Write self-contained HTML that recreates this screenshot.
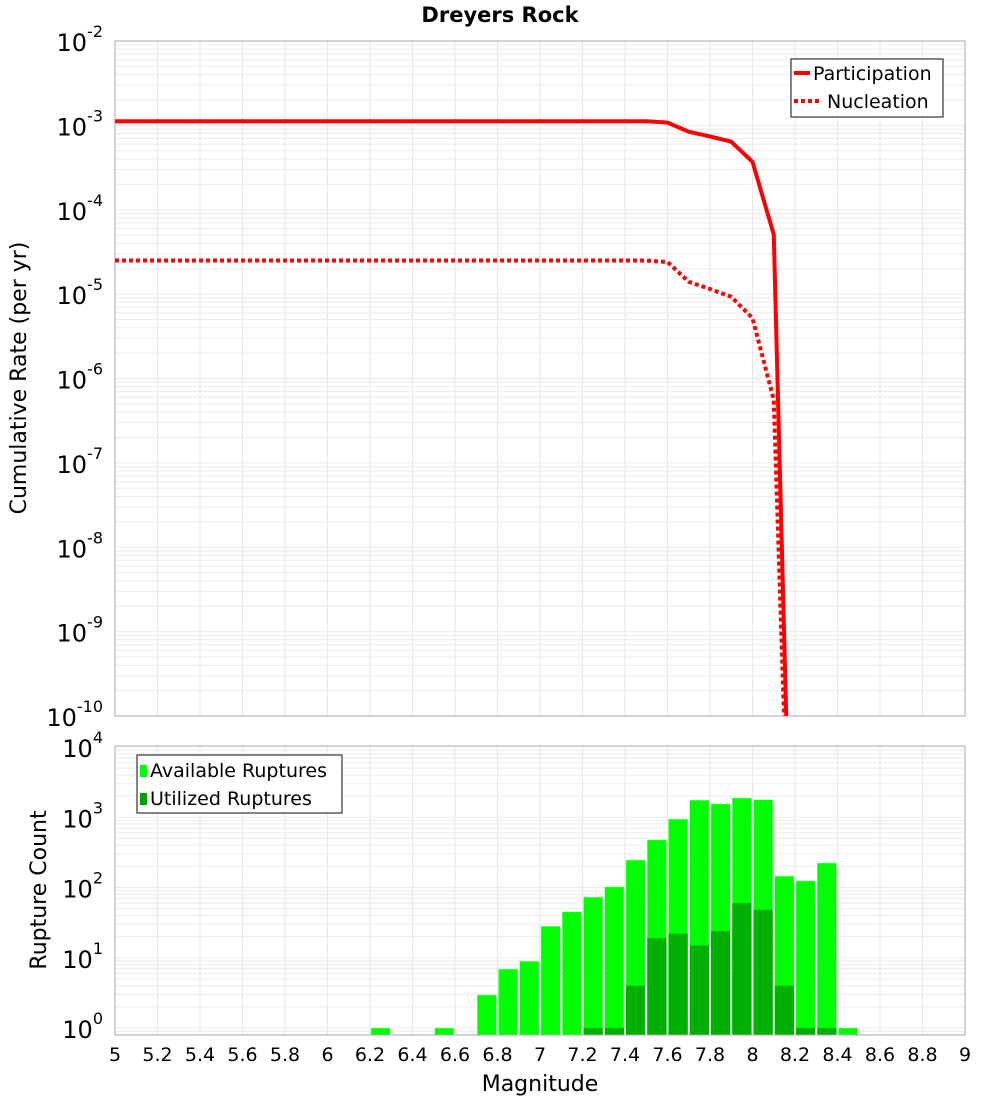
<!DOCTYPE html>
<html><head><meta charset="utf-8"><style>
body{margin:0;background:#fff;font-family:"Liberation Sans","DejaVu Sans",sans-serif}
svg text{font-family:"DejaVu Sans","Liberation Sans",sans-serif}
</style></head><body>
<svg id="c" width="1000" height="1100" xmlns="http://www.w3.org/2000/svg"></svg>
<script>
const mags=[5.0,7.5,7.6,7.7,7.8,7.9,8.0,8.1,8.2];
const participation=[1.12e-3,1.12e-3,1.08e-3,8.4e-4,7.4e-4,6.4e-4,3.7e-4,5.1e-5,1e-14];
const nucleation=[2.5e-5,2.5e-5,2.4e-5,1.4e-5,1.15e-5,9.3e-6,5.2e-6,5.6e-7,1e-14];
const binStarts=[6.2,6.5,6.7,6.8,6.9,7.0,7.1,7.2,7.3,7.4,7.5,7.6,7.7,7.8,7.9,8.0,8.1,8.2,8.3,8.4];
const available=[1,1,2.95,6.9,8.9,28,45,73,102,246,475,940,1750,1550,1880,1770,145,124,223,1];
const utilized=[0,0,0,0,0,0,0,1,1,4,19,22,15,24,60,48,4,1,1,0];
const xTicks=[5,5.2,5.4,5.6,5.8,6,6.2,6.4,6.6,6.8,7,7.2,7.4,7.6,7.8,8,8.2,8.4,8.6,8.8,9];
const topExps=[-2,-3,-4,-5,-6,-7,-8,-9,-10];
const botExps=[4,3,2,1,0];

const NS="http://www.w3.org/2000/svg",svg=document.getElementById('c');
function mk(t,a,p){const e=document.createElementNS(NS,t);for(const k in a)e.setAttribute(k,a[k]);(p||svg).appendChild(e);return e;}
const L=115,R=965;
const X=v=>L+(v-5)/4*(R-L);
const T0=41,T1=716,Yt=v=>T0+(-2-Math.log10(v))*(T1-T0)/8;
const B0=746,B1=1035,ppd=70.25,Yb=v=>1028-Math.log10(v)*ppd;

// title
let t=mk('text',{x:500,y:22,'text-anchor':'middle','font-size':21,'font-weight':'bold'});t.textContent='Dreyers Rock';


function grid(top,bot,yf,lo,hi,name){
  const g=mk('g',{});
  for(const xv of xTicks){mk('line',{x1:X(xv),x2:X(xv),y1:top,y2:bot,stroke:'#e6e6e6','stroke-width':1},g);}
  for(let e=lo;e<hi;e++)for(let m=1;m<10;m++){const y=yf(m*Math.pow(10,e));if(y>=top&&y<=bot)mk('line',{x1:L,x2:R,y1:y,y2:y,stroke:'#ebebeb','stroke-width':1},g);}
  mk('rect',{x:L,y:top,width:R-L,height:bot-top,fill:'none',stroke:'#aaa','stroke-width':1},g);
}
grid(T0,T1,Yt,-10,-2,'top-grid');
grid(B0,B1,Yb,-1,4,'bottom-grid');

function ylab(y,exp,name){
  const tx=mk('text',{x:103,y:y+10,'text-anchor':'end','font-size':24});
  
  const s1=mk('tspan',{},tx);s1.textContent='10';
  const s2=mk('tspan',{dy:-14,'font-size':16},tx);s2.textContent=String(exp);
}
for(const e of topExps){ylab(Yt(Math.pow(10,e)),e,'top-y-tick');}
for(const e of botExps){ylab(Yb(Math.pow(10,e)),e,'bottom-y-tick');}

// lines
const clip=mk('clipPath',{id:'cp'});mk('rect',{x:L,y:T0,width:R-L,height:T1-T0},clip);
function line(vals,dash,name){
  const p=mk('polyline',{points:mags.map((m,i)=>X(m)+','+Yt(vals[i])).join(' '),fill:'none',stroke:'#ff0000','stroke-width':4,'clip-path':'url(#cp)'});
  if(dash)p.setAttribute('stroke-dasharray','4,3');
  
}
line(participation,false,'participation-line');
line(nucleation,true,'nucleation-line');

// bars
const bw=X(5.1)-X(5);
binStarts.forEach((m,i)=>{
  const b=mk('rect',{x:X(m)+1,y:Yb(available[i]),width:bw-2,height:B1-Yb(available[i]),fill:'#00ff00',stroke:'#9f9','stroke-width':0.5});
  
  if(utilized[i]>0){const u=mk('rect',{x:X(m)+1,y:Yb(utilized[i]),width:bw-2,height:B1-Yb(utilized[i]),fill:'#00b000'});
  }
});
mk('line',{x1:L,x2:R,y1:B1,y2:B1,stroke:'#aaa'});

// x ticks
xTicks.forEach(v=>{const tx=mk('text',{x:X(v),y:1061,'text-anchor':'middle','font-size':19});tx.textContent=String(v);
});
t=mk('text',{x:540,y:1091,'text-anchor':'middle','font-size':22});t.textContent='Magnitude';

t=mk('text',{x:0,y:0,'text-anchor':'middle','font-size':22,transform:'translate(26,378) rotate(-90)'});t.textContent='Cumulative Rate (per yr)';

t=mk('text',{x:0,y:0,'text-anchor':'middle','font-size':22,transform:'translate(46,890) rotate(-90)'});t.textContent='Rupture Count';


// legends
let g=mk('g',{});
mk('rect',{x:791,y:59,width:152,height:58,fill:'#fff',stroke:'#333','stroke-width':1.2},g);
mk('line',{x1:794,x2:810,y1:73,y2:73,stroke:'#f00','stroke-width':4},g);
mk('line',{x1:794,x2:822,y1:101,y2:101,stroke:'#f00','stroke-width':4,'stroke-dasharray':'4,3'},g);
t=mk('text',{x:813,y:80,'font-size':19},g);t.textContent='Participation';
t=mk('text',{x:827,y:108,'font-size':19},g);t.textContent='Nucleation';
g=mk('g',{});
mk('rect',{x:137,y:755,width:205,height:58,fill:'#fff',stroke:'#333','stroke-width':1.2},g);
mk('rect',{x:140,y:765,width:7,height:12,fill:'#00ff00'},g);
mk('rect',{x:140,y:793,width:7,height:12,fill:'#00a000'},g);
t=mk('text',{x:150,y:777,'font-size':19},g);t.textContent='Available Ruptures';
t=mk('text',{x:150,y:805,'font-size':19},g);t.textContent='Utilized Ruptures';
</script>
</body></html>
